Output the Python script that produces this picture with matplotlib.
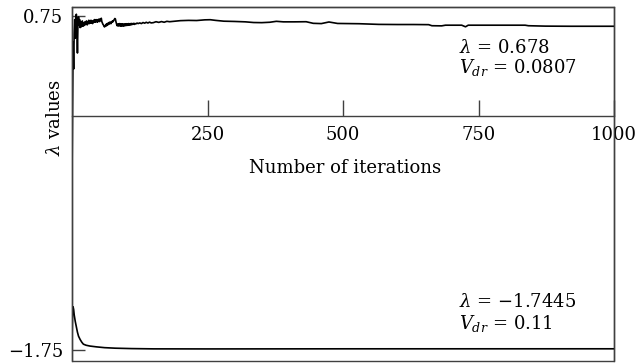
"""
Convergence of the lambda values over the iterations.
"""

import matplotlib

matplotlib.use("Agg")

import matplotlib.pyplot as plt
from matplotlib.patches import Rectangle

plt.rcParams["font.family"] = ["DejaVu Serif"]
plt.rcParams["mathtext.fontset"] = "dejavuserif"
plt.rcParams["font.size"] = 13

# upper run (lambda -> 0.678), one value per iteration for 0..116
upper_early = [
    -0.48, 0.10, 0.55, 0.35, 0.62, 0.72, 0.58, 0.74, 0.76, 0.66,
    0.47, 0.70, 0.74, 0.68, 0.72, 0.66, 0.70, 0.665, 0.69, 0.71,
    0.67, 0.695, 0.675, 0.70, 0.68, 0.705, 0.685, 0.71, 0.68, 0.70,
    0.69, 0.715, 0.69, 0.705, 0.695, 0.715, 0.695, 0.71, 0.69, 0.705,
    0.715, 0.70, 0.72, 0.70, 0.715, 0.705, 0.72, 0.70, 0.715, 0.71,
    0.725, 0.705, 0.72, 0.715, 0.73, 0.705, 0.695, 0.685, 0.68, 0.67,
    0.665, 0.675, 0.67, 0.685, 0.675, 0.69, 0.68, 0.695, 0.685, 0.70,
    0.69, 0.70, 0.69, 0.705, 0.70, 0.71, 0.705, 0.715, 0.72, 0.728,
    0.725, 0.705, 0.69, 0.675, 0.685, 0.672, 0.688, 0.674, 0.69, 0.672,
    0.686, 0.671, 0.688, 0.673, 0.687, 0.671, 0.686, 0.674, 0.688, 0.675,
    0.689, 0.676, 0.688, 0.677, 0.69, 0.679, 0.689, 0.68, 0.69, 0.681,
    0.691, 0.683, 0.69, 0.685, 0.692, 0.684, 0.69,
]

# upper run after iteration 116
upper_late_iter = [
    118, 120, 122, 125, 128, 131, 134, 137, 140, 143, 146, 150, 155, 160,
    165, 170, 175, 180, 190, 200, 215, 230, 245, 255, 265, 280, 300, 320,
    335, 350, 365, 377, 390, 410, 432, 445, 460, 474, 490, 505, 530, 566,
    600, 630, 658, 664, 682, 689, 719, 726, 731, 780, 836, 842, 873, 920,
    960, 1000,
]
upper_late_vals = [
    0.688, 0.694, 0.69, 0.695, 0.69, 0.698, 0.693, 0.70, 0.694, 0.701,
    0.695, 0.697, 0.704, 0.699, 0.705, 0.70, 0.707, 0.704, 0.708, 0.712,
    0.714, 0.713, 0.718, 0.719, 0.714, 0.708, 0.706, 0.703, 0.698, 0.697,
    0.70, 0.707, 0.703, 0.703, 0.704, 0.692, 0.69, 0.702, 0.691, 0.69,
    0.689, 0.684, 0.683, 0.683, 0.682, 0.674, 0.673, 0.678, 0.678, 0.666,
    0.678, 0.678, 0.678, 0.674, 0.671, 0.670, 0.670, 0.670,
]

# lower run (lambda -> -1.7445)
lower_iter = [
    0, 1, 2, 3, 4, 6, 8, 10, 12, 15, 18, 21, 26, 33, 45, 60, 80, 110, 150,
    250, 500, 1000,
]
lower_vals = [
    -1.69, -1.47, -1.43, -1.45, -1.49, -1.54, -1.58, -1.62, -1.65, -1.675,
    -1.695, -1.71, -1.718, -1.724, -1.730, -1.736, -1.740, -1.743, -1.745,
    -1.7455, -1.7447, -1.7445,
]

x_ticks = [250, 500, 750, 1000]
y_ticks = [0.75, -1.75]
y_ticklabels = ["0.75", "\u22121.75"]

upper_note = ["$\\lambda$ = 0.678", "$V_{dr}$ = 0.0807"]
lower_note = ["$\\lambda$ = \u22121.7445", "$V_{dr}$ = 0.11"]

frame_color = "#404040"

upper_iter = list(range(len(upper_early))) + upper_late_iter
upper_vals = upper_early + upper_late_vals

fig = plt.figure(figsize=(6.39, 3.64), dpi=100)
ax = fig.add_axes([0.1127, 0.0082, 0.8482, 0.9725])

ax.plot(upper_iter, upper_vals, color="black", linewidth=1.2)
ax.plot(lower_iter, lower_vals, color="black", linewidth=1.2)

ax.set_xlim(0, 1000)
ax.set_ylim(-1.836, 0.814)

# x axis runs along lambda = 0, the frame is closed by a patch
ax.spines["bottom"].set_position(("data", 0))
for side in ["left", "right", "top", "bottom"]:
    ax.spines[side].set_color(frame_color)
    ax.spines[side].set_linewidth(1.0)
ax.add_patch(
    Rectangle(
        (0, 0), 1, 1,
        transform=ax.transAxes,
        fill=False,
        edgecolor=frame_color,
        linewidth=1.0,
        clip_on=False,
    )
)

ax.set_xticks(x_ticks)
ax.set_xticklabels([str(t) for t in x_ticks])
ax.set_yticks(y_ticks)
ax.set_yticklabels(y_ticklabels)

ax.tick_params(
    axis="x", direction="in", length=11.5, width=1.0,
    color=frame_color, pad=7.5, labelsize=13,
)
ax.tick_params(
    axis="y", direction="in", length=9.5, width=1.0,
    color=frame_color, pad=6.5, labelsize=13,
)

ax.set_xlabel("Number of iterations", fontsize=13)
ax.xaxis.set_label_coords(0.504, 0.570)
ax.set_ylabel("$\\lambda$ values", fontsize=13)
ax.yaxis.set_label_coords(-0.014, 0.689)

ax.text(714, 0.470, upper_note[0], ha="left", va="baseline", fontsize=13)
ax.text(714, 0.322, upper_note[1], ha="left", va="baseline", fontsize=13)
ax.text(714, -1.430, lower_note[0], ha="left", va="baseline", fontsize=13)
ax.text(714, -1.596, lower_note[1], ha="left", va="baseline", fontsize=13)

fig.savefig("out.png", dpi=100)
